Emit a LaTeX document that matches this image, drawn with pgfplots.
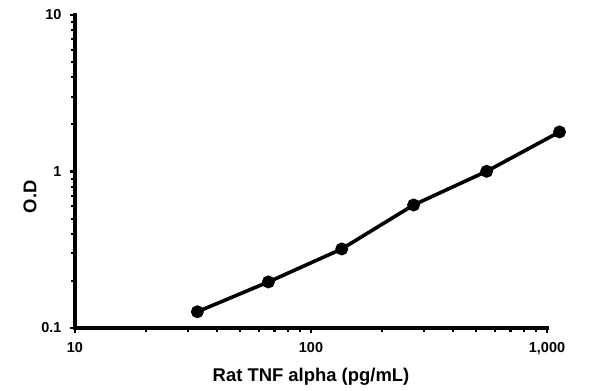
\documentclass[border=0pt]{standalone}
\usepackage{fontspec}
\setmainfont{Liberation Sans}
\usepackage{pgfplots}
\pgfplotsset{compat=1.18}
\begin{document}
\begin{tikzpicture}
\begin{axis}[
  xmode=log, ymode=log,
  scale only axis, width=472bp, height=313bp,
  xmin=10, xmax=1000, ymin=0.1, ymax=10,
  axis x line*=bottom, axis y line*=left,
  axis line style={line width=3.6bp, line cap=rect},
  xtick={10,100,1000}, xticklabels={10,100,{1,000}},
  ytick={0.1,1,10}, yticklabels={0.1,1,10},
  tick align=outside,
  major tick length=5bp, minor tick length=4bp,
  every tick/.style={black, line width=2.2bp},
  ticklabel style={font=\fontsize{14.5}{16}\selectfont\bfseries},
  xticklabel style={yshift=-6bp},
  yticklabel style={xshift=-5bp},
  xlabel={Rat TNF alpha (pg/mL)}, ylabel={O.D},
  label style={font=\fontsize{18.5}{20}\selectfont\bfseries},
  xlabel style={at={(axis description cs:0.5,0)}, anchor=center, yshift=-49bp},
  ylabel style={at={(axis description cs:0,0.419)}, anchor=center, rotate=0, yshift=45bp},
  clip=false,
]
\addplot[black, line width=3.6bp, mark=*, mark size=4.6bp] coordinates {
  (33,0.127) (66,0.197) (135,0.320) (272,0.611) (555,1.003) (1130,1.79)
};
\end{axis}
\pgfresetboundingbox
\path[use as bounding box] (-75bp,-63bp) rectangle (520bp,328bp);
\end{tikzpicture}
\end{document}
